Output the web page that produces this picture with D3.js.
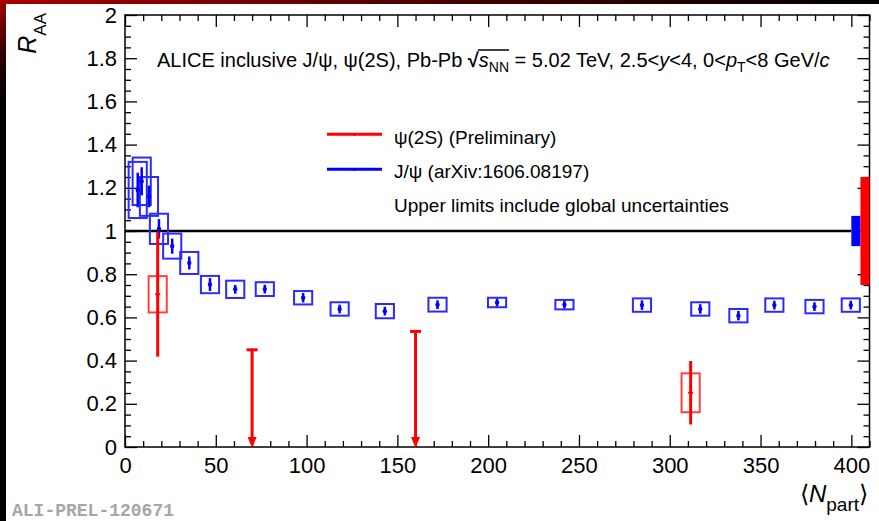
<!DOCTYPE html>
<html><head><meta charset="utf-8">
<script src="https://cdn.jsdelivr.net/npm/d3@7"></script>
<style>
body{margin:0;background:#fff}
svg{display:block}
text{font-family:"Liberation Sans",Arial,Helvetica,sans-serif}
</style>
</head><body>
<svg id="c" width="879" height="521"></svg>
<script>
// ---------- data ----------
const jpsiNpart = [7.0, 9.2, 13.2, 18.7, 26.0, 35.4, 46.8, 60.7, 77.0, 98.1, 118.2, 143.1, 172.1, 204.9, 242.0, 284.7, 316.8, 337.8, 357.6, 379.7, 399.7];
const jpsiRaa   = [1.19, 1.23, 1.16, 1.01, 0.93, 0.852, 0.752, 0.73, 0.731, 0.691, 0.639, 0.629, 0.659, 0.669, 0.659, 0.657, 0.639, 0.608, 0.657, 0.65, 0.657];
const jpsiStat  = [0.08, 0.065, 0.05, 0.045, 0.035, 0.03, 0.03, 0.02, 0.02, 0.022, 0.02, 0.02, 0.02, 0.018, 0.018, 0.022, 0.022, 0.022, 0.02, 0.02, 0.02];
const jpsiSyst  = [0.13, 0.11, 0.09, 0.07, 0.058, 0.051, 0.04, 0.04, 0.032, 0.031, 0.031, 0.033, 0.032, 0.022, 0.022, 0.031, 0.031, 0.031, 0.031, 0.031, 0.031];

const psiNpart = [18.0, 311.5];
const psiRaa   = [0.707, 0.251];
const psiStat  = [0.289, 0.147];
const psiSyst  = [0.084, 0.09];

const ulNpart = [70, 160];
const ulValue = [0.45, 0.535];

const globalJpsi = 0.07;
const globalPsi  = 0.25;
const boxHalfWidth = 5;

const xTicks = [0, 50, 100, 150, 200, 250, 300, 350, 400];
const xTickLabels = ["0", "50", "100", "150", "200", "250", "300", "350", "400"];
const yTicks = [0, 0.2, 0.4, 0.6, 0.8, 1, 1.2, 1.4, 1.6, 1.8, 2];
const yTickLabels = ["0", "0.2", "0.4", "0.6", "0.8", "1", "1.2", "1.4", "1.6", "1.8", "2"];

const legendLabels = ["\u03c8(2S) (Preliminary)", "J/\u03c8 (arXiv:1606.08197)", "Upper limits include global uncertainties"];

// ---------- drawing ----------
const svg = d3.select("#c");
const defs = svg.append("defs");
const gt = defs.append("linearGradient").attr("id", "gt").attr("x1", 0).attr("x2", 1).attr("y1", 0).attr("y2", 0);
gt.append("stop").attr("offset", "0").attr("stop-color", "#a80000");
gt.append("stop").attr("offset", "0.45").attr("stop-color", "#500000");
gt.append("stop").attr("offset", "1").attr("stop-color", "#000");
const gl = defs.append("linearGradient").attr("id", "gl").attr("x1", 0).attr("x2", 0).attr("y1", 0).attr("y2", 1);
gl.append("stop").attr("offset", "0").attr("stop-color", "#a80000");
gl.append("stop").attr("offset", "0.1").attr("stop-color", "#300000");
gl.append("stop").attr("offset", "0.2").attr("stop-color", "#000");
gl.append("stop").attr("offset", "1").attr("stop-color", "#000");

svg.append("rect").attr("width", 879).attr("height", 521).attr("fill", "#fff");
svg.append("rect").attr("x", 0).attr("y", 0).attr("width", 879).attr("height", 4).attr("fill", "url(#gt)");
svg.append("rect").attr("x", 0).attr("y", 0).attr("width", 6).attr("height", 521).attr("fill", "url(#gl)");

const x = d3.scaleLinear().domain([0, 410]).range([125, 869.5]);
const y = d3.scaleLinear().domain([0, 2]).range([447, 15]);

const xMinor = d3.range(0, 411, 10).filter(v => v % 50 !== 0);
const yMinor = d3.range(0, 41).map(i => i * 0.05).filter(v => Math.abs(v * 5 - Math.round(v * 5)) > 1e-6);

function styleAxis(g, fs) {
  g.select(".domain").remove();
  g.selectAll("line").attr("stroke", "#000").attr("stroke-width", 1.3);
  g.selectAll("text").attr("font-size", fs).attr("fill", "#000")
    .attr("font-family", '"Liberation Sans",Arial,Helvetica,sans-serif');
}

// frame
svg.append("rect").attr("x", x(0)).attr("y", y(2)).attr("width", x(410) - x(0)).attr("height", y(0) - y(2))
  .attr("fill", "none").attr("stroke", "#000").attr("stroke-width", 1.5);

// bottom
svg.append("g").attr("transform", `translate(0,${y(0)})`)
  .call(d3.axisBottom(x).tickValues(xTicks).tickFormat((d, i) => xTickLabels[i]).tickSize(-12).tickPadding(10))
  .call(g => styleAxis(g, 22));
svg.append("g").attr("transform", `translate(0,${y(0)})`)
  .call(d3.axisBottom(x).tickValues(xMinor).tickFormat("").tickSize(-6))
  .call(g => styleAxis(g, 22));
// top
svg.append("g").attr("transform", `translate(0,${y(2)})`)
  .call(d3.axisTop(x).tickValues(xTicks).tickFormat("").tickSize(-12))
  .call(g => styleAxis(g, 22));
svg.append("g").attr("transform", `translate(0,${y(2)})`)
  .call(d3.axisTop(x).tickValues(xMinor).tickFormat("").tickSize(-6))
  .call(g => styleAxis(g, 22));
// left
svg.append("g").attr("transform", `translate(${x(0)},0)`)
  .call(d3.axisLeft(y).tickValues(yTicks).tickFormat((d, i) => yTickLabels[i]).tickSize(-12).tickPadding(8))
  .call(g => styleAxis(g, 22));
svg.append("g").attr("transform", `translate(${x(0)},0)`)
  .call(d3.axisLeft(y).tickValues(yMinor).tickFormat("").tickSize(-6))
  .call(g => styleAxis(g, 22));
// right
svg.append("g").attr("transform", `translate(${x(410)},0)`)
  .call(d3.axisRight(y).tickValues(yTicks).tickFormat("").tickSize(-12))
  .call(g => styleAxis(g, 22));
svg.append("g").attr("transform", `translate(${x(410)},0)`)
  .call(d3.axisRight(y).tickValues(yMinor).tickFormat("").tickSize(-6))
  .call(g => styleAxis(g, 22));

// unity line
svg.append("line").attr("x1", x(0)).attr("x2", x(400)).attr("y1", y(1)).attr("y2", y(1))
  .attr("stroke", "#000").attr("stroke-width", 2.5);

// J/psi
const jp = jpsiNpart.map((n, i) => ({n, v: jpsiRaa[i], st: jpsiStat[i], sy: jpsiSyst[i]}));
const blue = "#0000ff";
svg.append("g").selectAll("rect").data(jp).join("rect")
  .attr("x", d => x(d.n - boxHalfWidth)).attr("width", d => x(d.n + boxHalfWidth) - x(d.n - boxHalfWidth))
  .attr("y", d => y(d.v + d.sy)).attr("height", d => y(d.v - d.sy) - y(d.v + d.sy))
  .attr("fill", "none").attr("stroke", "#2b2bff").attr("stroke-width", 2);
svg.append("g").selectAll("line").data(jp).join("line")
  .attr("x1", d => x(d.n)).attr("x2", d => x(d.n))
  .attr("y1", d => y(d.v + d.st)).attr("y2", d => y(d.v - d.st))
  .attr("stroke", blue).attr("stroke-width", 2.5);
svg.append("g").selectAll("circle").data(jp).join("circle")
  .attr("cx", d => x(d.n)).attr("cy", d => y(d.v)).attr("r", 2.2).attr("fill", blue);

// psi(2S)
const red = "#ff0000";
const ps = psiNpart.map((n, i) => ({n, v: psiRaa[i], st: psiStat[i], sy: psiSyst[i]}));
svg.append("g").selectAll("rect").data(ps).join("rect")
  .attr("x", d => x(d.n - boxHalfWidth)).attr("width", d => x(d.n + boxHalfWidth) - x(d.n - boxHalfWidth))
  .attr("y", d => y(d.v + d.sy)).attr("height", d => y(d.v - d.sy) - y(d.v + d.sy))
  .attr("fill", "none").attr("stroke", "#ff4040").attr("stroke-width", 2);
svg.append("g").selectAll("line").data(ps).join("line")
  .attr("x1", d => x(d.n)).attr("x2", d => x(d.n))
  .attr("y1", d => y(d.v + d.st)).attr("y2", d => y(d.v - d.st))
  .attr("stroke", red).attr("stroke-width", 3);
svg.append("g").selectAll("line").data(ps).join("line")
  .attr("x1", d => x(d.n) - 2.5).attr("x2", d => x(d.n) + 2.5)
  .attr("y1", d => y(d.v)).attr("y2", d => y(d.v))
  .attr("stroke", red).attr("stroke-width", 2);

// upper limits
const ul = ulNpart.map((n, i) => ({n, v: ulValue[i]}));
const ulg = svg.append("g");
ulg.selectAll("line.v").data(ul).join("line").attr("class", "v")
  .attr("x1", d => x(d.n)).attr("x2", d => x(d.n)).attr("y1", d => y(d.v)).attr("y2", y(0) - 6)
  .attr("stroke", red).attr("stroke-width", 3);
ulg.selectAll("line.h").data(ul).join("line").attr("class", "h")
  .attr("x1", d => x(d.n) - 5.5).attr("x2", d => x(d.n) + 5.5).attr("y1", d => y(d.v)).attr("y2", d => y(d.v))
  .attr("stroke", red).attr("stroke-width", 3);
ulg.selectAll("path").data(ul).join("path")
  .attr("d", d => `M${x(d.n) - 4.5},${y(0) - 10}L${x(d.n) + 4.5},${y(0) - 10}L${x(d.n)},${y(0) + 1}Z`)
  .attr("fill", red);

// global uncertainties
svg.append("rect").attr("x", x(400)).attr("width", x(405) - x(400))
  .attr("y", y(1 + globalJpsi)).attr("height", y(1 - globalJpsi) - y(1 + globalJpsi)).attr("fill", blue);
svg.append("rect").attr("x", x(405)).attr("width", x(410) - x(405))
  .attr("y", y(1 + globalPsi)).attr("height", y(1 - globalPsi) - y(1 + globalPsi)).attr("fill", red);

// legend
const lg = svg.append("g");
[[red, 134.3], [blue, 169.3]].forEach(([c, ly]) => {
  lg.append("line").attr("x1", 327).attr("x2", 382).attr("y1", ly).attr("y2", ly).attr("stroke", c).attr("stroke-width", 3);
  lg.append("circle").attr("cx", 354.5).attr("cy", ly).attr("r", 1.6).attr("fill", c);
});
[143.5, 178, 212].forEach((by, i) => {
  lg.append("text").attr("x", 394).attr("y", by).attr("font-size", 19).text(legendLabels[i]);
});

// title
const TY = 67;
const t = svg.append("text").attr("x", 157).attr("y", TY).attr("font-size", 20).attr("fill", "#000");
t.append("tspan").text("ALICE inclusive J/\u03c8, \u03c8(2S), Pb-Pb ");
t.append("tspan").attr("font-weight", "bold").text("\u221a");
t.append("tspan").attr("font-style", "italic").text("s");
t.append("tspan").attr("font-size", 14).attr("dy", 5).text("NN");
t.append("tspan").attr("dy", -5).text(" = 5.02 TeV, 2.5<");
t.append("tspan").attr("font-style", "italic").text("y");
t.append("tspan").text("<4, 0<");
t.append("tspan").attr("font-style", "italic").text("p");
t.append("tspan").attr("font-size", 14).attr("dy", 5).text("T");
t.append("tspan").attr("dy", -5).text("<8 GeV/");
t.append("tspan").attr("font-style", "italic").text("c");
(function () {
  const node = t.node();
  const pre = "ALICE inclusive J/\u03c8, \u03c8(2S), Pb-Pb ".length;
  try {
    const rootExt = node.getExtentOfChar(pre);
    const nnEnd = node.getExtentOfChar(pre + 3);
    svg.append("line").attr("x1", rootExt.x + rootExt.width - 1).attr("x2", nnEnd.x + nnEnd.width)
      .attr("y1", TY - 17).attr("y2", TY - 17).attr("stroke", "#000").attr("stroke-width", 1.4);
  } catch (e) {}
})();

// axis titles
const yt = svg.append("text").attr("transform", "translate(36,13) rotate(-90)").attr("text-anchor", "end");
yt.append("tspan").attr("font-style", "italic").attr("font-size", 25).text("R");
yt.append("tspan").attr("font-size", 17).attr("dy", 10).text("AA");

const xt = svg.append("text").attr("x", 868).attr("y", 502).attr("text-anchor", "end").attr("font-size", 24);
xt.append("tspan").text("\u27e8");
xt.append("tspan").attr("font-style", "italic").text("N");
xt.append("tspan").attr("font-size", 19).attr("dy", 9).text("part");
xt.append("tspan").attr("dy", -9).text("\u27e9");

// preliminary id
svg.append("text").attr("x", 12).attr("y", 515.5).attr("font-size", 18).attr("font-weight", "bold")
  .attr("fill", "#a6a6a6").style("font-family", '"Liberation Mono","DejaVu Sans Mono",monospace')
  .text("ALI-PREL-120671");
</script>
</body></html>
